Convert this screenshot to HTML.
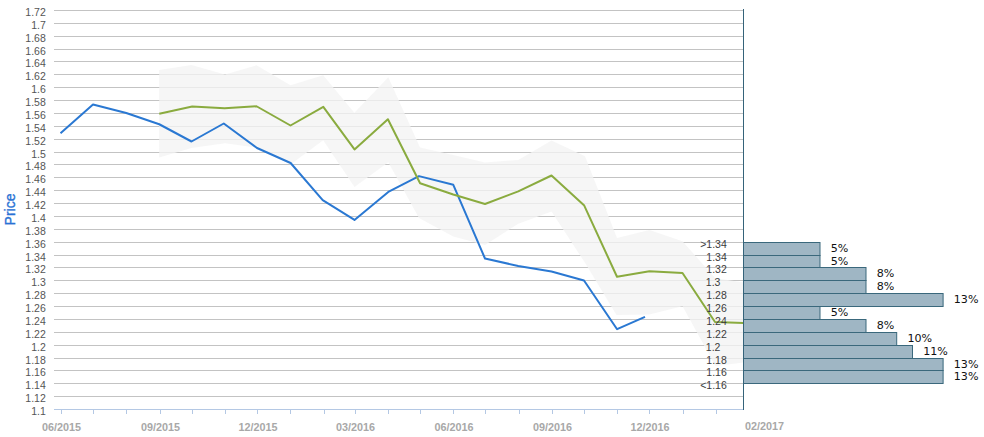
<!DOCTYPE html>
<html><head><meta charset="utf-8"><title>Price chart</title>
<style>
html,body{margin:0;padding:0;background:#fff;}
body{width:984px;height:437px;overflow:hidden;}
svg{display:block;font-family:"Liberation Sans",Arial,sans-serif;}
.yl{font-size:10.5px;fill:#555;text-anchor:end;}
.xl{font-size:10.8px;font-weight:bold;fill:#a8a8a8;text-anchor:middle;}
.bl{font-size:10.5px;fill:#3c3c3c;}
.pl{font-size:11.1px;fill:#111;font-family:"DejaVu Sans","Liberation Sans",sans-serif;}
</style></head><body>
<svg width="984" height="437" viewBox="0 0 984 437">
<rect width="984" height="437" fill="#fff"/>

<g fill="#c3c3c3" shape-rendering="crispEdges">
<rect x="54" y="10" width="690" height="1"/>
<rect x="54" y="23" width="690" height="1"/>
<rect x="54" y="36" width="690" height="1"/>
<rect x="54" y="49" width="690" height="1"/>
<rect x="54" y="61" width="690" height="1"/>
<rect x="54" y="74" width="690" height="1"/>
<rect x="54" y="87" width="690" height="1"/>
<rect x="54" y="100" width="690" height="1"/>
<rect x="54" y="113" width="690" height="1"/>
<rect x="54" y="126" width="690" height="1"/>
<rect x="54" y="139" width="690" height="1"/>
<rect x="54" y="152" width="690" height="1"/>
<rect x="54" y="164" width="690" height="1"/>
<rect x="54" y="177" width="690" height="1"/>
<rect x="54" y="190" width="690" height="1"/>
<rect x="54" y="203" width="690" height="1"/>
<rect x="54" y="216" width="690" height="1"/>
<rect x="54" y="229" width="690" height="1"/>
<rect x="54" y="242" width="690" height="1"/>
<rect x="54" y="255" width="690" height="1"/>
<rect x="54" y="267" width="690" height="1"/>
<rect x="54" y="280" width="690" height="1"/>
<rect x="54" y="293" width="690" height="1"/>
<rect x="54" y="306" width="690" height="1"/>
<rect x="54" y="319" width="690" height="1"/>
<rect x="54" y="332" width="690" height="1"/>
<rect x="54" y="345" width="690" height="1"/>
<rect x="54" y="358" width="690" height="1"/>
<rect x="54" y="370" width="690" height="1"/>
<rect x="54" y="383" width="690" height="1"/>
<rect x="54" y="396" width="690" height="1"/>
</g>
<g fill="#b4c8e4" shape-rendering="crispEdges"><rect x="54" y="409" width="690" height="1"/>
<rect x="61" y="409" width="1" height="5"/>
<rect x="93" y="409" width="1" height="5"/>
<rect x="126" y="409" width="1" height="5"/>
<rect x="160" y="409" width="1" height="5"/>
<rect x="192" y="409" width="1" height="5"/>
<rect x="225" y="409" width="1" height="5"/>
<rect x="257" y="409" width="1" height="5"/>
<rect x="290" y="409" width="1" height="5"/>
<rect x="324" y="409" width="1" height="5"/>
<rect x="355" y="409" width="1" height="5"/>
<rect x="388" y="409" width="1" height="5"/>
<rect x="420" y="409" width="1" height="5"/>
<rect x="453" y="409" width="1" height="5"/>
<rect x="485" y="409" width="1" height="5"/>
<rect x="519" y="409" width="1" height="5"/>
<rect x="552" y="409" width="1" height="5"/>
<rect x="584" y="409" width="1" height="5"/>
<rect x="617" y="409" width="1" height="5"/>
<rect x="649" y="409" width="1" height="5"/>
<rect x="683" y="409" width="1" height="5"/>
<rect x="716" y="409" width="1" height="5"/>
</g>
<polygon points="159.20,70.00 191.50,65.00 225.00,74.50 256.50,65.25 290.50,85.20 323.20,75.20 354.40,112.80 388.30,77.30 420.00,147.50 453.25,155.00 485.00,162.50 518.25,160.00 551.50,140.50 585.00,156.25 617.00,238.00 649.40,230.00 682.50,241.25 715.00,278.00 743.50,282.50 743.50,362.50 715.50,366.00 682.50,306.25 649.40,314.50 616.50,315.00 585.00,262.80 551.50,211.50 518.25,223.75 485.00,245.00 453.25,236.50 419.00,218.00 388.30,162.20 354.50,187.00 323.20,140.20 290.50,164.50 256.50,147.50 225.00,143.20 191.50,148.00 159.20,157.50" fill="#f3f3f3" fill-opacity="0.78"/>
<polyline points="60.50,133.25 93.00,104.50 126.25,113.00 159.25,124.25 191.50,141.50 223.75,123.50 257.00,148.00 290.60,163.00 322.70,200.10 354.50,219.90 388.30,191.90 419.00,176.10 453.30,184.80 485.00,258.50 518.25,266.00 551.50,271.50 584.00,280.50 617.10,329.20 645.00,316.80" fill="none" stroke="#2a78d2" stroke-width="2" stroke-linejoin="round"/>
<polyline points="159.25,113.75 192.20,106.40 224.60,108.30 256.50,106.25 290.50,125.50 323.30,106.80 354.50,149.40 387.90,119.20 420.10,183.30 453.25,194.50 485.00,204.00 518.25,191.40 551.50,175.50 584.25,205.60 617.00,276.75 649.40,271.25 682.50,273.00 715.00,322.00 743.50,323.00" fill="none" stroke="#8aab3f" stroke-width="2" stroke-linejoin="round"/>
<g class="yl">
<text x="45.8" y="16.3">1.72</text>
<text x="45.8" y="29.3">1.7</text>
<text x="45.8" y="42.3">1.68</text>
<text x="45.8" y="55.3">1.66</text>
<text x="45.8" y="67.3">1.64</text>
<text x="45.8" y="80.3">1.62</text>
<text x="45.8" y="93.3">1.6</text>
<text x="45.8" y="106.3">1.58</text>
<text x="45.8" y="119.3">1.56</text>
<text x="45.8" y="132.3">1.54</text>
<text x="45.8" y="145.3">1.52</text>
<text x="45.8" y="158.3">1.5</text>
<text x="45.8" y="170.3">1.48</text>
<text x="45.8" y="183.3">1.46</text>
<text x="45.8" y="196.3">1.44</text>
<text x="45.8" y="209.3">1.42</text>
<text x="45.8" y="222.3">1.4</text>
<text x="45.8" y="235.3">1.38</text>
<text x="45.8" y="248.3">1.36</text>
<text x="45.8" y="261.3">1.34</text>
<text x="45.8" y="273.3">1.32</text>
<text x="45.8" y="286.3">1.3</text>
<text x="45.8" y="299.3">1.28</text>
<text x="45.8" y="312.3">1.26</text>
<text x="45.8" y="325.3">1.24</text>
<text x="45.8" y="338.3">1.22</text>
<text x="45.8" y="351.3">1.2</text>
<text x="45.8" y="364.3">1.18</text>
<text x="45.8" y="376.3">1.16</text>
<text x="45.8" y="389.3">1.14</text>
<text x="45.8" y="402.3">1.12</text>
<text x="45.8" y="415.3">1.1</text>
</g>
<g class="xl">
<text x="61.5" y="431">06/2015</text>
<text x="160.5" y="431">09/2015</text>
<text x="258" y="431">12/2015</text>
<text x="355.5" y="431">03/2016</text>
<text x="454" y="431">06/2016</text>
<text x="552.5" y="431">09/2016</text>
<text x="650" y="431">12/2016</text>
<text x="764.5" y="430">02/2017</text>
</g>
<text transform="translate(15.1,209.5) rotate(-90)" text-anchor="middle" font-size="14" fill="#2a72d4" stroke="#2a72d4" stroke-width="0.35">Price</text>
<g>
<rect x="743.5" y="242.5" width="76.5" height="13" fill="#9fb6c4" stroke="#3a687c" stroke-width="1"/>
<rect x="743.5" y="255.5" width="76.5" height="12" fill="#9fb6c4" stroke="#3a687c" stroke-width="1"/>
<rect x="743.5" y="267.5" width="122.5" height="13" fill="#9fb6c4" stroke="#3a687c" stroke-width="1"/>
<rect x="743.5" y="280.5" width="122.5" height="13" fill="#9fb6c4" stroke="#3a687c" stroke-width="1"/>
<rect x="743.5" y="293.5" width="199.6" height="13" fill="#9fb6c4" stroke="#3a687c" stroke-width="1"/>
<rect x="743.5" y="306.5" width="76.5" height="13" fill="#9fb6c4" stroke="#3a687c" stroke-width="1"/>
<rect x="743.5" y="319.5" width="122.5" height="13" fill="#9fb6c4" stroke="#3a687c" stroke-width="1"/>
<rect x="743.5" y="332.5" width="153.2" height="13" fill="#9fb6c4" stroke="#3a687c" stroke-width="1"/>
<rect x="743.5" y="345.5" width="169" height="13" fill="#9fb6c4" stroke="#3a687c" stroke-width="1"/>
<rect x="743.5" y="358.5" width="199.6" height="12" fill="#9fb6c4" stroke="#3a687c" stroke-width="1"/>
<rect x="743.5" y="370.5" width="199.6" height="13" fill="#9fb6c4" stroke="#3a687c" stroke-width="1"/>
<rect x="743" y="9" width="1" height="401" fill="#35637a"/>
</g>
<g class="bl">
<text x="726.8" y="247.7" text-anchor="end">>1.34</text>
<text x="726.8" y="260.7" text-anchor="end">1.34</text>
<text x="726.8" y="272.7" text-anchor="end">1.32</text>
<text x="705.8" y="285.7">1.3</text>
<text x="726.8" y="298.7" text-anchor="end">1.28</text>
<text x="726.8" y="311.7" text-anchor="end">1.26</text>
<text x="726.8" y="324.7" text-anchor="end">1.24</text>
<text x="726.8" y="337.7" text-anchor="end">1.22</text>
<text x="705.8" y="350.7">1.2</text>
<text x="726.8" y="363.7" text-anchor="end">1.18</text>
<text x="726.8" y="375.7" text-anchor="end">1.16</text>
<text x="726.8" y="388.7" text-anchor="end"><1.16</text>
</g>
<g class="pl">
<text x="830.7" y="252.1">5%</text>
<text x="830.7" y="264.6">5%</text>
<text x="876.7" y="277.1">8%</text>
<text x="876.7" y="290.1">8%</text>
<text x="953.8" y="303.1">13%</text>
<text x="830.7" y="316.1">5%</text>
<text x="876.7" y="329.1">8%</text>
<text x="907.4" y="342.1">10%</text>
<text x="923.2" y="355.1">11%</text>
<text x="953.8" y="367.6">13%</text>
<text x="953.8" y="380.1">13%</text>
</g>
</svg></body></html>
